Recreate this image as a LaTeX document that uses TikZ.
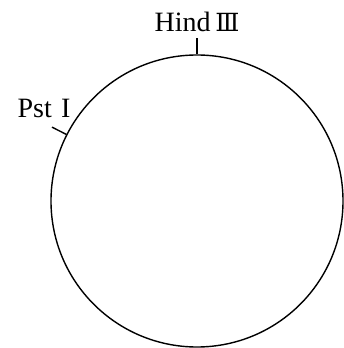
\documentclass[tikz,border=0pt]{standalone}
\usepackage{fontspec}
\setmainfont{Liberation Serif}
\newfontfamily\numfont{DejaVu Serif}
\usetikzlibrary{positioning}

\begin{document}
\begin{tikzpicture}[
  x=1pt, y=1pt,
  ring/.style={draw, circle, line width=1.4pt, minimum size=292pt, inner sep=0pt},
  cut/.style={line width=1.4pt},
  site/.style={font=\fontsize{28}{31}\selectfont, inner sep=0pt, anchor=base},
]
  \useasboundingbox (0,0) rectangle (344,348);
  \node[ring] (plasmid) at (197,147) {};
  % restriction sites
  \draw[cut] (plasmid.90) -- ++(90:16) coordinate (hindend);
  \draw[cut] (plasmid.153) -- ++(153:16) coordinate (pstend);
  \node[site] (hind) at (197,316) {Hind\,{\numfont\fontsize{25}{29}\selectfont Ⅲ}};
  \node[site] (pst) at (44,230) {Pst\,\,I};
\end{tikzpicture}
\end{document}
